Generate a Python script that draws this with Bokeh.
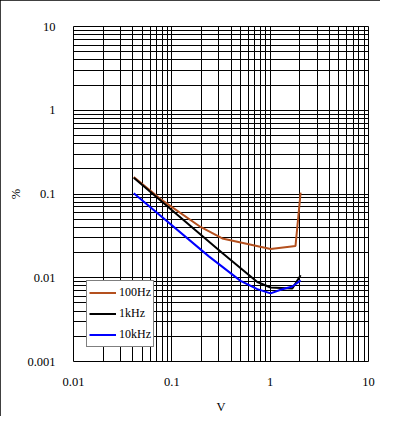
from bokeh.plotting import figure
from bokeh.models import FixedTicker, CustomJSTickFormatter, Legend, LegendItem
from bokeh.embed import file_html
from bokeh.resources import INLINE

# ---- data ----
x_100 = [0.041, 0.0767, 0.196, 0.326, 1.01, 1.81, 2.04]
y_100 = [0.16, 0.0869, 0.0404, 0.0295, 0.0221, 0.024, 0.104]

x_1k = [0.041, 0.326, 0.74, 1.01, 1.68, 2.04]
y_1k = [0.156, 0.0197, 0.0089, 0.00764, 0.00745, 0.0107]

x_10k = [0.041, 0.238, 0.5, 0.74, 1.01, 1.28, 1.68, 2.04]
y_10k = [0.102, 0.018, 0.00917, 0.00731, 0.0065, 0.00718, 0.00786, 0.0093]

series_names = ["100Hz", "1kHz", "10kHz"]
series_colors = ["#B4501E", "#000000", "#0000FF"]

x_major = [0.01, 0.1, 1, 10]
y_major = [0.001, 0.01, 0.1, 1, 10]

FONT = "Liberation Serif"


def minors(majors):
    out = []
    for m in majors[:-1]:
        for k in range(2, 10):
            out.append(m * k)
    return out


p = figure(width=380, height=416, x_axis_type="log", y_axis_type="log",
           x_range=(0.01, 10), y_range=(0.001, 10),
           output_backend="svg", toolbar_location=None,
           min_border_left=73, min_border_top=26,
           min_border_right=12, min_border_bottom=49)

p.background_fill_color = "white"
p.border_fill_color = "white"
p.outline_line_color = "black"
p.outline_line_width = 1
p.styles = {"outline": "1px solid black", "outline-offset": "-1px"}

p.xaxis.ticker = FixedTicker(ticks=x_major, minor_ticks=minors(x_major))
p.yaxis.ticker = FixedTicker(ticks=y_major, minor_ticks=minors(y_major))
fmt = CustomJSTickFormatter(code="return tick.toString();")
p.xaxis.formatter = fmt
p.yaxis.formatter = fmt

for ax in (p.xaxis, p.yaxis):
    ax.axis_line_color = None
    ax.major_tick_line_color = None
    ax.minor_tick_line_color = None
    ax.major_label_text_font = FONT
    ax.major_label_text_font_size = "12.5px"
    ax.major_label_text_color = "black"
    ax.axis_label_text_font = FONT
    ax.axis_label_text_font_size = "12.5px"
    ax.axis_label_text_font_style = "normal"
    ax.axis_label_text_color = "black"

p.xaxis.axis_label = "V"
p.yaxis.axis_label = "%"
p.xaxis.major_label_standoff = 10
p.yaxis.major_label_standoff = 12
p.xaxis.axis_label_standoff = 11
p.yaxis.axis_label_standoff = 1

for g in (p.xgrid, p.ygrid):
    g.grid_line_color = "black"
    g.grid_line_width = 1
    g.minor_grid_line_color = "black"
    g.minor_grid_line_width = 1

r1 = p.line(x_100, y_100, line_color=series_colors[0], line_width=2)
r2 = p.line(x_1k, y_1k, line_color=series_colors[1], line_width=2)
r3 = p.line(x_10k, y_10k, line_color=series_colors[2], line_width=2)

legend = Legend(items=[LegendItem(label=series_names[0], renderers=[r1]),
                       LegendItem(label=series_names[1], renderers=[r2]),
                       LegendItem(label=series_names[2], renderers=[r3])],
                location=(13, 14), orientation="vertical",
                label_text_font=FONT, label_text_font_size="12px",
                label_text_color="black",
                glyph_width=27, glyph_height=19, label_height=19,
                label_standoff=3, spacing=2, padding=2, margin=0,
                border_line_color="black", border_line_width=1,
                background_fill_color="white", background_fill_alpha=1)
p.add_layout(legend, "center")

open("out.html", "w").write(file_html(p, INLINE))
